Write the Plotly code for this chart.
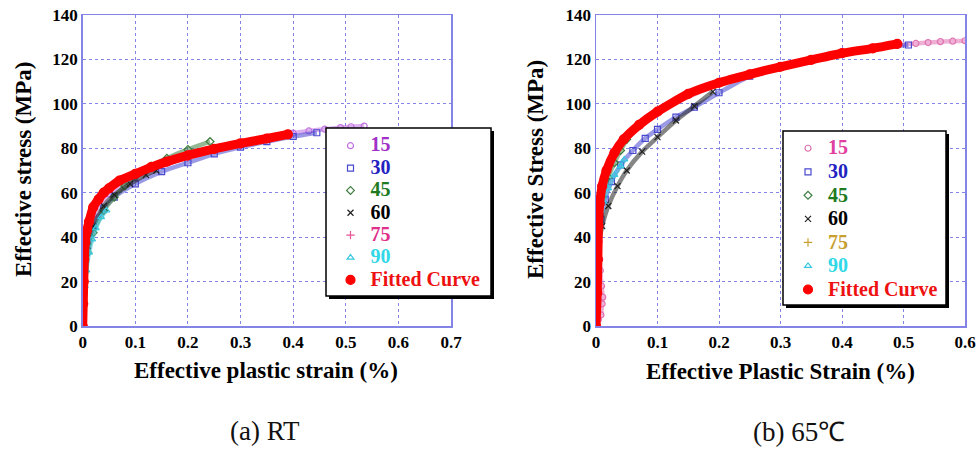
import plotly.graph_objects as go

FW, FH = 980, 454

# ---------------- (a) RT data ----------------
rt_x_ticks = [0, 0.1, 0.2, 0.3, 0.4, 0.5, 0.6, 0.7]
rt_y_ticks = [0, 20, 40, 60, 80, 100, 120, 140]

rt_15_x = [0, 0.004, 0.02, 0.05, 0.1, 0.2, 0.3, 0.4, 0.43, 0.46, 0.49, 0.51, 0.535]
rt_15_y = [0, 34, 50, 59.5, 67, 76, 81.5, 86.8, 87.8, 88.6, 89.3, 89.7, 90]
rt_30_x = [0, 0.005, 0.02, 0.04, 0.06, 0.1, 0.15, 0.2, 0.25, 0.3, 0.35, 0.4, 0.445]
rt_30_y = [0, 30, 45, 53, 58, 64, 69.5, 73.5, 77.5, 80.5, 83, 85.3, 87]
rt_45_x = [0, 0.01, 0.02, 0.04, 0.06, 0.08, 0.1, 0.13, 0.16, 0.2, 0.242]
rt_45_y = [0, 33, 42, 52, 58, 63, 67.5, 72, 75.5, 79.5, 83]
rt_60_x = [0, 0.01, 0.02, 0.04, 0.06, 0.09, 0.12, 0.14]
rt_60_y = [0, 36, 45, 54, 59, 64, 68, 70]
rt_75_x = [0, 0.005, 0.02, 0.05, 0.1, 0.2, 0.3]
rt_75_y = [0, 36, 52, 61.5, 68, 76, 81.5]
rt_90_x = [0.004, 0.007, 0.012, 0.018, 0.025, 0.035, 0.045]
rt_90_y = [18, 25, 33, 39, 44, 49, 52]
rt_fit_x = [0, 0.001, 0.002, 0.003, 0.005, 0.008, 0.012, 0.02, 0.03, 0.04, 0.05,
            0.07, 0.1, 0.13, 0.16, 0.2, 0.25, 0.3, 0.35, 0.39]
rt_fit_y = [0, 10, 20, 30, 38, 43, 47, 53.5, 57, 60, 62,
            65.5, 68.5, 71.5, 74, 76.8, 79.7, 82.2, 84.4, 86.3]

# ---------------- (b) 65C data ----------------
ht_x_ticks = [0, 0.1, 0.2, 0.3, 0.4, 0.5, 0.6]
ht_y_ticks = [0, 20, 40, 60, 80, 100, 120, 140]

ht_15_x = [0.004, 0.008, 0.01, 0.011, 0.009, 0.007, 0.006, 0.005, 0.006, 0.01, 0.03,
           0.1, 0.2, 0.3, 0.4, 0.45, 0.49, 0.52, 0.54, 0.56, 0.58, 0.6]
ht_15_y = [3, 5, 10, 13, 18, 25, 30, 38, 45, 60, 78,
           96, 109, 116.5, 122.5, 125, 126.5, 127.2, 127.6, 128, 128.2, 128.4]
ht_30_x = [0, 0.003, 0.008, 0.015, 0.025, 0.04, 0.06, 0.08, 0.1, 0.13, 0.16, 0.2,
           0.25, 0.3, 0.35, 0.4, 0.45, 0.508]
ht_30_y = [0, 35, 48, 57, 65, 72.5, 79, 84.5, 88.5, 94, 98.5, 105,
           112.5, 116.8, 120, 123, 125, 126.5]
ht_45_x = [0, 0.005, 0.01, 0.02, 0.03, 0.04, 0.05]
ht_45_y = [0, 50, 58, 67, 73.5, 79, 84]
ht_60_x = [0, 0.004, 0.01, 0.02, 0.035, 0.05, 0.075, 0.1, 0.13, 0.16, 0.19]
ht_60_y = [0, 35, 45, 54, 63, 70, 78.5, 85, 92.5, 99, 105.5]
ht_75_x = [0, 0.002, 0.004, 0.006, 0.01]
ht_75_y = [0, 20, 40, 52, 60]
ht_90_x = [0.004, 0.008, 0.012, 0.02, 0.03, 0.04, 0.046]
ht_90_y = [45, 52, 56, 62, 68, 72, 75]
ht_fit_x = [0, 0.002, 0.003, 0.004, 0.006, 0.01, 0.017, 0.03, 0.045, 0.07, 0.1,
            0.15, 0.2, 0.25, 0.3, 0.35, 0.4, 0.45, 0.49]
ht_fit_y = [0, 15, 30, 45, 55, 63, 70, 78, 84, 90.5, 96.5,
            104.5, 109.5, 113.3, 116.7, 119.8, 122.8, 125, 127]

series_names = ["15", "30", "45", "60", "75", "90", "Fitted Curve"]

FONT = "Liberation Serif"
AXC = "#8484e6"

fig = go.Figure()


def add_panel(data, colors, text_colors, xa, ya, legend):
    symbols = ["circle-open", "square-open", "diamond-open", "x-thin-open",
               "cross-thin-open", "triangle-up-open", "circle"]
    for i, (xs, ys) in enumerate(data):
        fit = i == len(data) - 1
        fig.add_trace(go.Scatter(
            x=xs, y=ys, mode="lines", xaxis=xa, yaxis=ya,
            line=dict(color=colors[i], width=9 if fit else 4.5, shape="spline", smoothing=0.6),
            opacity=1 if fit else 0.55,
            showlegend=False, hoverinfo="skip"))
        fig.add_trace(go.Scatter(
            x=xs, y=ys, mode="markers", xaxis=xa, yaxis=ya, legend=legend,
            name="<span style='font-size:20px;color:%s'><b>%s</b></span>" % (text_colors[i], series_names[i]),
            marker=dict(symbol=symbols[i], color=colors[i], size=9 if fit else 6,
                        line=dict(width=1.2, color=colors[i]))))


add_panel(
    [(rt_15_x, rt_15_y), (rt_30_x, rt_30_y), (rt_45_x, rt_45_y), (rt_60_x, rt_60_y),
     (rt_75_x, rt_75_y), (rt_90_x, rt_90_y), (rt_fit_x, rt_fit_y)],
    ["#c070e0", "#4848d0", "#3c7c3c", "#202020", "#e8559a", "#38c8e0", "#ff0000"],
    ["#a030c8", "#2222c0", "#207a20", "#000000", "#e0308a", "#30d8e8", "#ee1111"],
    "x", "y", "legend")

add_panel(
    [(ht_15_x, ht_15_y), (ht_30_x, ht_30_y), (ht_45_x, ht_45_y), (ht_60_x, ht_60_y),
     (ht_75_x, ht_75_y), (ht_90_x, ht_90_y), (ht_fit_x, ht_fit_y)],
    ["#e070b0", "#4848d0", "#3c7c3c", "#202020", "#c8a030", "#38c8e0", "#ff0000"],
    ["#e040a0", "#2222c0", "#207a20", "#000000", "#c8a030", "#30d8e8", "#ee1111"],
    "x2", "y2", "legend2")


def px(v):
    return v / FW


def py(v):
    return 1 - v / FH


axis_common = dict(
    showline=True, mirror=True, linecolor=AXC, linewidth=1.5,
    showgrid=True, gridcolor=AXC, griddash="dot", gridwidth=1,
    zeroline=False, ticks="", automargin=False, ticklabeloverflow="allow",
    tickfont=dict(family=FONT, size=17, color="black", weight="bold"),
)

fig.update_layout(
    width=FW, height=FH, autosize=False,
    margin=dict(l=0, r=0, t=0, b=0, autoexpand=False),
    paper_bgcolor="white", plot_bgcolor="white",
    font=dict(family=FONT),
    xaxis=dict(domain=[px(82.7), px(451)], range=[0, 0.7], tickvals=rt_x_ticks,
               ticktext=[("%g" % v) for v in rt_x_ticks], anchor="y", **axis_common),
    yaxis=dict(domain=[py(326), py(15)], range=[0, 140], tickvals=rt_y_ticks,
               anchor="x", **axis_common),
    xaxis2=dict(domain=[px(596), px(965)], range=[0, 0.6], tickvals=ht_x_ticks,
                ticktext=[("%g" % v) for v in ht_x_ticks], anchor="y2", **axis_common),
    yaxis2=dict(domain=[py(326), py(15)], range=[0, 140], tickvals=ht_y_ticks,
                anchor="x2", **axis_common),
    legend=dict(x=px(330.5), y=py(129.5), xanchor="left", yanchor="top",
                bgcolor="rgba(0,0,0,0)", borderwidth=0, tracegroupgap=0,
                font=dict(family=FONT, size=14.9, color="black")),
    legend2=dict(x=px(788), y=py(131.5), xanchor="left", yanchor="top",
                 bgcolor="rgba(0,0,0,0)", borderwidth=0, tracegroupgap=0,
                 font=dict(family=FONT, size=15.8, color="black")),
    showlegend=True,
)

for (x0, y0, x1, y1) in [(326, 128, 491, 296), (783, 131, 946, 305)]:
    fig.add_shape(type="rect", xref="paper", yref="paper",
                  x0=px(x0 + 3), x1=px(x1 + 3), y0=py(y1 + 3), y1=py(y0 + 3),
                  fillcolor="black", line=dict(width=0))
    fig.add_shape(type="rect", xref="paper", yref="paper",
                  x0=px(x0), x1=px(x1), y0=py(y1), y1=py(y0),
                  fillcolor="white", line=dict(color="black", width=1.5))

ann = []
tfont = dict(family=FONT, size=23, color="black", weight="bold")
ann.append(dict(text="Effective plastic strain (%)", x=px(265.5), y=py(370), font=tfont))
ann.append(dict(text="Effective Plastic Strain (%)", x=px(780.5), y=py(371), font=tfont))
ann.append(dict(text="Effective stress (MPa)", x=px(23), y=py(170), textangle=-90, font=tfont))
ann.append(dict(text="Effective Stress (MPa)", x=px(535), y=py(170), textangle=-90, font=tfont))
cfont = dict(family=FONT, size=27, color="#111111")
ann.append(dict(text="(a) RT", x=px(264.5), y=py(431), font=cfont))
ann.append(dict(text="(b) 65℃", x=px(799), y=py(432), font=cfont))
for a in ann:
    a.update(xref="paper", yref="paper", showarrow=False, xanchor="center", yanchor="middle")
fig.update_layout(annotations=ann)

fig.write_html("out.html",
               config={"displayModeBar": False, "staticPlot": True},
               post_script="document.body.style.margin='0';document.body.style.overflow='hidden';")
